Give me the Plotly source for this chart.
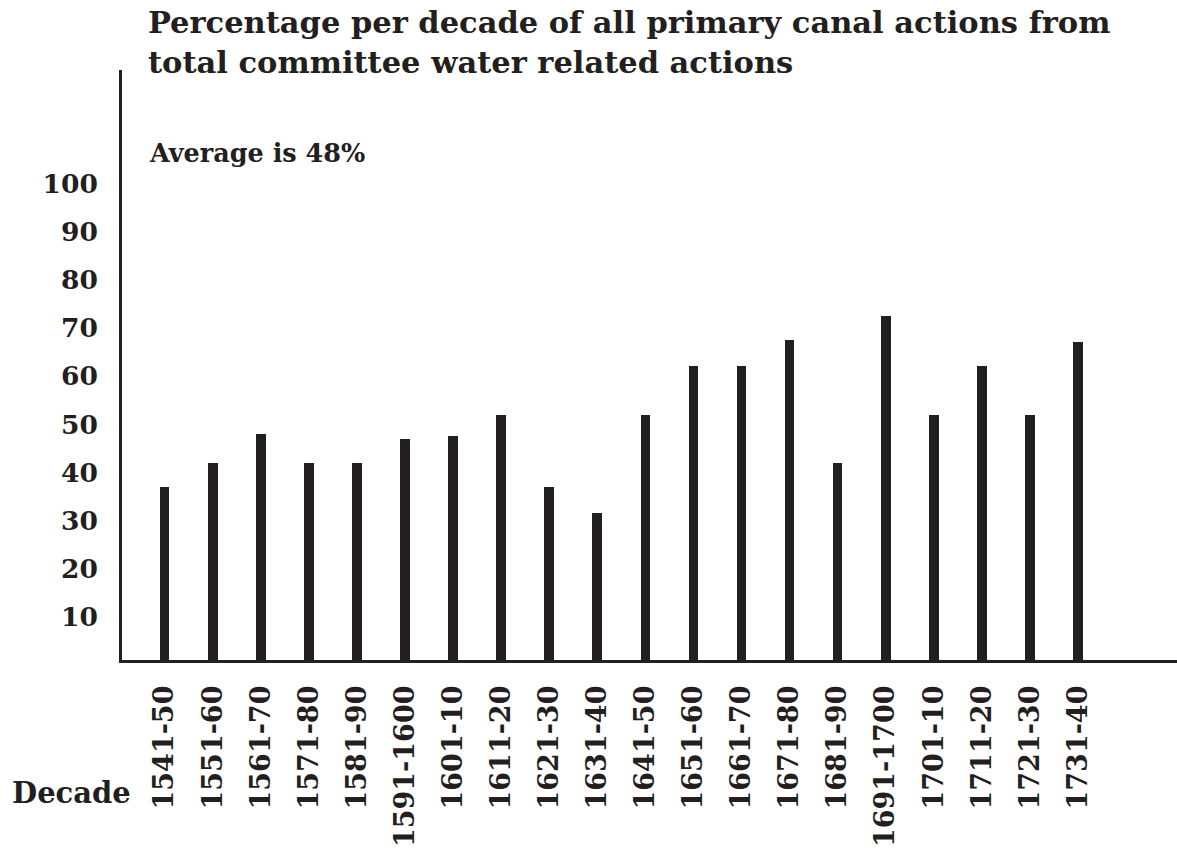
import plotly.graph_objects as go

# Decade categories and share of primary canal actions (%)
decades = [
    "1541-50", "1551-60", "1561-70", "1571-80", "1581-90", "1591-1600",
    "1601-10", "1611-20", "1621-30", "1631-40", "1641-50", "1651-60",
    "1661-70", "1671-80", "1681-90", "1691-1700", "1701-10", "1711-20",
    "1721-30", "1731-40",
]
canal_share = [
    37, 42, 48, 42, 42, 47, 47.5, 52, 37, 31.5,
    52, 62, 62, 67.5, 42, 72.5, 52, 62, 52, 67,
]
y_ticks = [10, 20, 30, 40, 50, 60, 70, 80, 90, 100]

title_text = ("Percentage per decade of all primary canal actions from<br>"
              "total committee water related actions")
average_text = "Average is 48%"
axis_name = "Decade"

INK = "#231f20"
FONT = "DejaVu Serif"

W, H = 1177, 850
ML, MR, MT, MB = 122, 0, 70, 190
PW, PH = W - ML - MR, H - MT - MB


def px(x):
    return (x - ML) / PW


def py(y):
    return (H - MB - y) / PH


fig = go.Figure(
    go.Bar(
        x=decades,
        y=canal_share,
        width=0.2,
        marker=dict(color=INK, line=dict(width=0)),
        hoverinfo="x+y",
    )
)

fig.update_layout(
    width=W,
    height=H,
    margin=dict(l=ML, r=MR, t=MT, b=MB, pad=0),
    paper_bgcolor="white",
    plot_bgcolor="white",
    showlegend=False,
    font=dict(family=FONT, color=INK),
    bargap=0,
)

fig.update_xaxes(
    type="category",
    range=[-0.888, 21.06],
    showline=True,
    linecolor=INK,
    linewidth=2.5,
    showgrid=False,
    zeroline=False,
    ticks="",
    tickangle=-90,
    tickfont=dict(family=FONT, size=27, color=INK, weight="bold"),
    ticklabelstandoff=12,
)

fig.update_yaxes(
    range=[1.08, 123.5],
    showline=True,
    linecolor=INK,
    linewidth=2.5,
    showgrid=False,
    zeroline=False,
    ticks="",
    tickvals=y_ticks,
    ticktext=[str(v) for v in y_ticks],
    tickfont=dict(family=FONT, size=26.5, color=INK, weight="bold"),
    ticklabelstandoff=16,
)

fig.add_annotation(
    text=title_text, xref="paper", yref="paper",
    x=px(146), y=py(2), xanchor="left", yanchor="top",
    align="left", showarrow=False,
    font=dict(family=FONT, size=30.5, color=INK, weight="bold"),
)
fig.add_annotation(
    text=average_text, xref="paper", yref="paper",
    x=px(147), y=py(136), xanchor="left", yanchor="top",
    align="left", showarrow=False,
    font=dict(family=FONT, size=25.5, color=INK, weight="bold"),
)
fig.add_annotation(
    text=axis_name, xref="paper", yref="paper",
    x=px(10), y=py(793), xanchor="left", yanchor="middle",
    showarrow=False,
    font=dict(family=FONT, size=29, color=INK, weight="bold"),
)

fig.write_html("out.html")
